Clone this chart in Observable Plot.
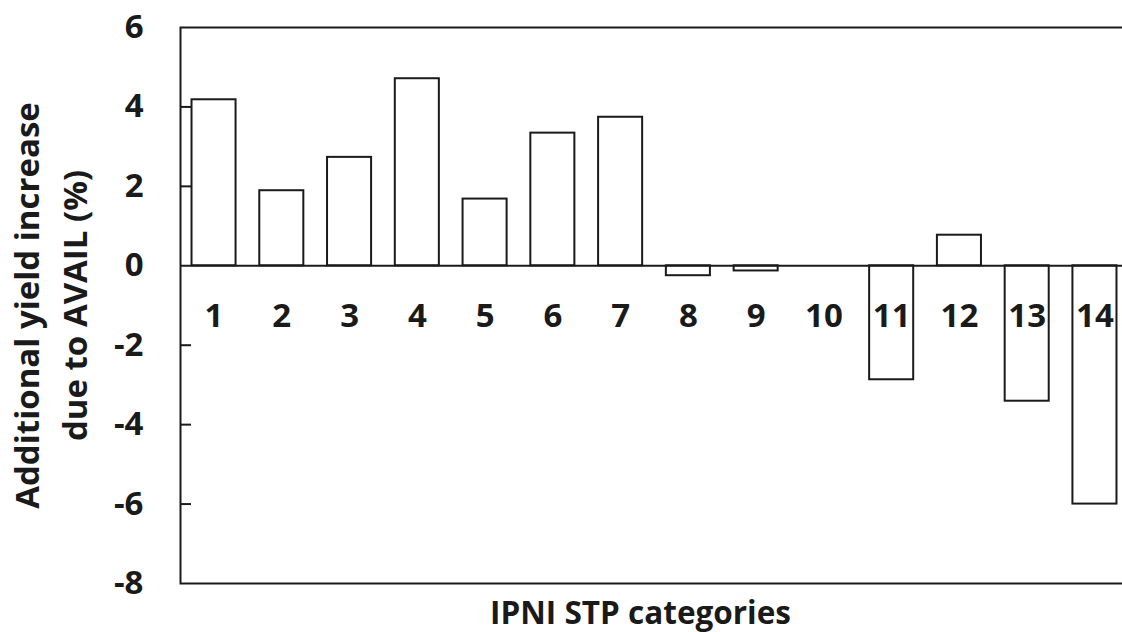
<!DOCTYPE html>
<html>
<head>
<meta charset="utf-8">
<script src="https://cdn.jsdelivr.net/npm/d3@7"></script>
<script src="https://cdn.jsdelivr.net/npm/@observablehq/plot@0.6"></script>
<style>
  html, body { margin: 0; padding: 0; background: #fff; overflow: hidden; }
  #chart svg { overflow: hidden; }
</style>
</head>
<body>
<div id="chart"></div>
<script>
const categories = ["1","2","3","4","5","6","7","8","9","10","11","12","13","14"];
const values = [4.18, 1.89, 2.73, 4.71, 1.68, 3.34, 3.74, -0.25, -0.13, 0, -2.87, 0.77, -3.41, -6.0];
const yTicks = [-8, -6, -4, -2, 0, 2, 4, 6];
const innerTicks = [-6, -4, -2, 2, 4];
const yLabel1 = "Additional yield increase";
const yLabel2 = "due to AVAIL (%)";
const xLabel = "IPNI STP categories";

const data = categories.map((c, i) => ({cat: c, value: values[i]}));
const font = "'Open Sans', 'DejaVu Sans', sans-serif";
const ink = "#1a1a1a";

const chart = Plot.plot({
  width: 1122,
  height: 632,
  marginLeft: 180,
  marginRight: -6,
  marginTop: 27,
  marginBottom: 49,
  style: {fontFamily: font, background: "#fff", overflow: "hidden"},
  x: {domain: categories, range: [180, 1128], paddingInner: 0.35, paddingOuter: 0.17, round: false, axis: null},
  y: {domain: [-8, 6], range: [583, 27], axis: null},
  marks: [
    Plot.frame({stroke: ink, strokeWidth: 2}),
    Plot.barY(data, {x: "cat", y: "value", fill: "white", stroke: ink, strokeWidth: 2}),
    Plot.ruleY([0], {stroke: ink, strokeWidth: 2}),
    Plot.tickY(innerTicks, {y: d => d, stroke: ink, strokeWidth: 2, insetRight: 948 - 11}),
    Plot.axisY({ticks: yTicks, tickSize: 0, tickPadding: 37, tickFormat: d => String(d),
      fontSize: 33, fontWeight: "bold", fill: ink, label: null}),
    Plot.text(data, {x: "cat", y: 0, text: "cat", dy: 51, fontSize: 33, fontWeight: "bold",
      fill: ink, lineAnchor: "middle"}),
    Plot.text([yLabel1], {frameAnchor: "left", dx: -152, rotate: -90, text: d => d,
      fontSize: 33, fontWeight: "bold", fill: ink, textAnchor: "middle", lineAnchor: "middle"}),
    Plot.text([yLabel2], {frameAnchor: "left", dx: -104, rotate: -90, text: d => d,
      fontSize: 33, fontWeight: "bold", fill: ink, textAnchor: "middle", lineAnchor: "middle"}),
    Plot.text([xLabel], {frameAnchor: "bottom", dx: -14, dy: 30, text: d => d,
      fontSize: 31.5, fontWeight: "bold", fill: ink, textAnchor: "middle", lineAnchor: "middle"})
  ]
});
document.getElementById("chart").append(chart);
</script>
</body>
</html>
